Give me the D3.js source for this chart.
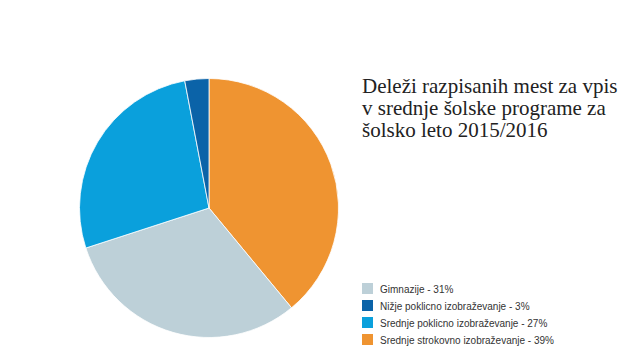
<!DOCTYPE html>
<html>
<head>
<meta charset="utf-8">
<script src="https://cdn.jsdelivr.net/npm/d3@7"></script>
<style>
  body { margin: 0; background: #fff; }
  svg { display: block; }
</style>
</head>
<body>
<svg id="chart" width="640" height="360"></svg>
<script>
// data, in the order the slices run clockwise from 12 o'clock
var categories = ['Srednje strokovno izobraževanje', 'Gimnazije', 'Srednje poklicno izobraževanje', 'Nižje poklicno izobraževanje'];
var values = [39, 31, 27, 3];
var colors = ['#ef9431', '#bdd0d8', '#0aa0dc', '#0b63a8'];

// legend order as in the picture
var legendOrder = ['Gimnazije', 'Nižje poklicno izobraževanje', 'Srednje poklicno izobraževanje', 'Srednje strokovno izobraževanje'];

var titleLines = ['Deleži razpisanih mest za vpis', 'v srednje šolske programe za', 'šolsko leto 2015/2016'];

var svg = d3.select('svg#chart');

var data = categories.map(function(c, i) { return {name: c, value: values[i]}; });
var color = d3.scaleOrdinal().domain(categories).range(colors);

var pie = d3.pie().sort(null).value(function(d) { return d.value; });
var arc = d3.arc().innerRadius(0).outerRadius(129.5);

var g = svg.append('g').attr('transform', 'translate(209,208)');
g.selectAll('path.slice')
    .data(pie(data))
    .enter().append('path')
    .attr('class', 'slice')
    .attr('d', arc)
    .attr('fill', function(d) { return color(d.data.name); })
    .attr('stroke', '#fff')
    .attr('stroke-width', 0.8);

// title
svg.append('text')
    .attr('x', 362)
    .attr('y', 93)
    .style('font-family', '"Liberation Serif", "Times New Roman", serif')
    .style('font-size', '21px')
    .style('fill', '#222')
    .selectAll('tspan')
    .data(titleLines)
    .enter().append('tspan')
    .attr('x', 362)
    .attr('dy', function(d, i) { return i === 0 ? 0 : 22; })
    .text(function(d) { return d; });

// legend
var legend = svg.append('g').attr('transform', 'translate(362,283)');
var rows = legend.selectAll('g.row')
    .data(legendOrder)
    .enter().append('g')
    .attr('class', 'row')
    .attr('transform', function(d, i) { return 'translate(0,' + (i * 17) + ')'; });

rows.append('rect')
    .attr('width', 11)
    .attr('height', 11)
    .attr('fill', function(d) { return color(d); });

rows.append('text')
    .attr('x', 18)
    .attr('y', 9.5)
    .style('font-family', '"Liberation Sans", Arial, sans-serif')
    .style('font-size', '10px')
    .style('fill', '#333')
    .text(function(d) { return d + ' - ' + values[categories.indexOf(d)] + '%'; });
</script>
</body>
</html>
